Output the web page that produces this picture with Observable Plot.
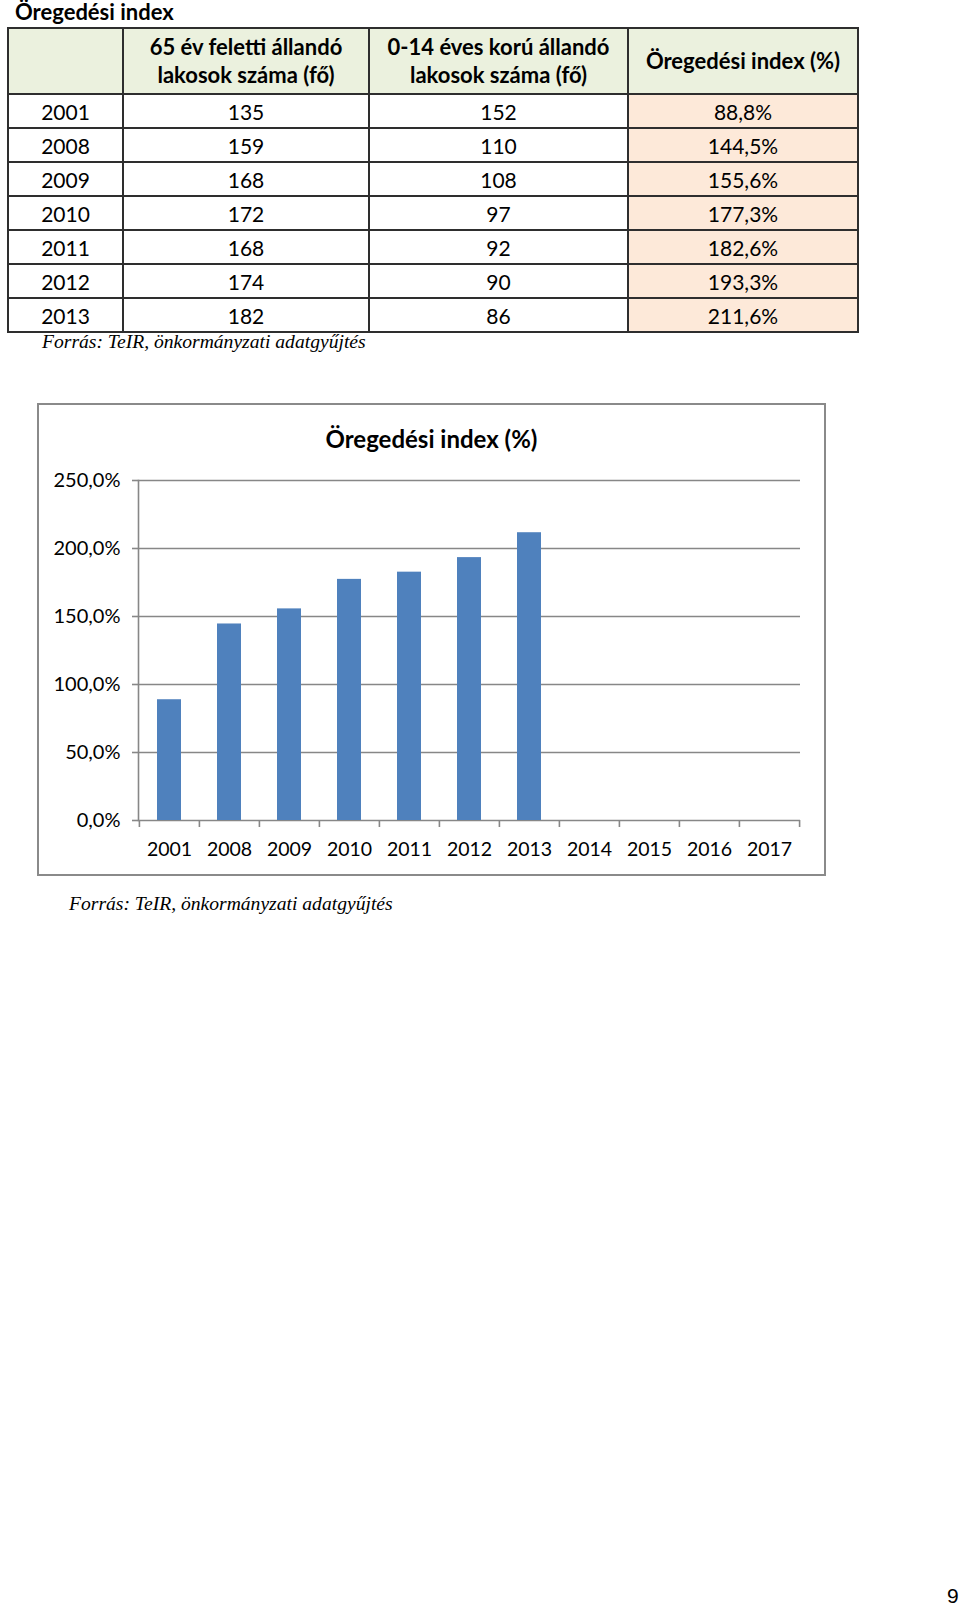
<!DOCTYPE html>
<html>
<head>
<meta charset="utf-8">
<script src="https://cdn.jsdelivr.net/npm/d3@7"></script>
<script src="https://cdn.jsdelivr.net/npm/@observablehq/plot@0.6"></script>
<style>
  html, body { margin: 0; padding: 0; background: #fff; }
  body { width: 960px; height: 1610px; position: relative; overflow: hidden; font-family: Lato, sans-serif; color: #000; }
  #title { position: absolute; left: 15px; top: 1px; font-size: 22px; line-height: 22px; font-weight: bold; white-space: nowrap; }
  #tbl { position: absolute; left: 7px; top: 27px; border-collapse: collapse; table-layout: fixed; font-size: 21px; }
  #tbl td, #tbl th { border: 2px solid #2e2e2e; padding: 0; text-align: center; vertical-align: middle; white-space: nowrap; }
  #tbl th { background: #EBF1DE; font-weight: bold; font-size: 22px; height: 64px; line-height: 28px; }
  #tbl td { height: 32px; line-height: 21px; }
  #tbl td.idx { background: #FDE9D9; }
  .src { position: absolute; font-family: "Liberation Serif", serif; font-style: italic; font-size: 19.6px; line-height: 20px; white-space: nowrap; }
  #src1 { left: 42px; top: 332px; }
  #src2 { left: 69px; top: 894px; }
  #box { position: absolute; left: 37px; top: 403px; width: 789px; height: 473px; border: 2px solid #8a8a8a; box-sizing: border-box; }
  #ctitle { position: absolute; left: 37px; width: 789px; top: 427px; text-align: center; font-size: 24px; line-height: 24px; font-weight: bold; white-space: nowrap; }
  #chart { position: absolute; left: 38px; top: 404px; }
  #page { position: absolute; left: 947px; top: 1585px; font-family: "Liberation Sans", Arial, sans-serif; font-size: 21px; line-height: 21px; }
</style>
</head>
<body>
<div id="title">Öregedési index</div>
<table id="tbl"></table>
<div id="src1" class="src">Forrás: TeIR, önkormányzati adatgyűjtés</div>
<div id="box"></div>
<div id="ctitle">Öregedési index (%)</div>
<div id="chart"></div>
<div id="src2" class="src">Forrás: TeIR, önkormányzati adatgyűjtés</div>
<div id="page">9</div>
<script>
// ---- data ----
const years = ["2001", "2008", "2009", "2010", "2011", "2012", "2013"];
const over65 = [135, 159, 168, 172, 168, 174, 182];
const under14 = [152, 110, 108, 97, 92, 90, 86];
const agingIndex = [88.8, 144.5, 155.6, 177.3, 182.6, 193.3, 211.6];
const axisYears = ["2001", "2008", "2009", "2010", "2011", "2012", "2013", "2014", "2015", "2016", "2017"];
const yTicks = [0, 50, 100, 150, 200, 250];
const headers = ["", "65 év feletti állandó<br>lakosok száma (fő)", "0-14 éves korú állandó<br>lakosok száma (fő)", "Öregedési index (%)"];

const pct = v => v.toFixed(1).replace(".", ",") + "%";

// ---- table ----
const tbl = document.getElementById("tbl");
const colW = [115, 246, 259, 230];
let html = "<colgroup>" + colW.map(w => `<col style="width:${w}px">`).join("") + "</colgroup>";
html += "<tr>" + headers.map(h => `<th>${h}</th>`).join("") + "</tr>";
years.forEach((y, i) => {
  html += `<tr><td>${y}</td><td>${over65[i]}</td><td>${under14[i]}</td><td class="idx">${pct(agingIndex[i])}</td></tr>`;
});
tbl.innerHTML = html;

// ---- chart ----
const data = years.map((y, i) => ({year: y, index: agingIndex[i]}));
const W = 787, H = 471, mL = 100, mR = 25, mT = 76, mB = 55;
const step = (W - mL - mR) / axisYears.length;
const grey = "#878787";

const marks = [
  Plot.ruleY(yTicks, {stroke: grey, strokeWidth: 1.6}),
  Plot.barY(data, {x: "year", y: "index", fill: "#4F81BD"}),
  Plot.frame({anchor: "left", stroke: grey, strokeWidth: 1.6}),
  Plot.axisY({ticks: yTicks, tickFormat: pct, tickSize: 6, tickPadding: 12, stroke: grey, strokeWidth: 1.6, fill: "#000", fontSize: 20, label: null}),
  Plot.axisX({tickSize: 0, tickPadding: 22, fill: "#000", fontSize: 19.5, label: null}),
  Plot.axisX({tickSize: 7, text: null, dx: -step / 2, stroke: grey, strokeWidth: 1.6, label: null}),
  Plot.axisX({ticks: [axisYears[axisYears.length - 1]], tickSize: 7, text: null, dx: step / 2, stroke: grey, strokeWidth: 1.6, label: null})
];

const chart = Plot.plot({
  width: W, height: H,
  marginLeft: mL, marginRight: mR, marginTop: mT, marginBottom: mB,
  style: {fontFamily: "Lato, sans-serif", fontSize: "18px", color: "#000", background: "transparent", overflow: "visible"},
  x: {type: "band", domain: axisYears, paddingInner: 0.6, paddingOuter: 0.3},
  y: {domain: [0, 250]},
  marks
});
document.getElementById("chart").appendChild(chart);
</script>
</body>
</html>
